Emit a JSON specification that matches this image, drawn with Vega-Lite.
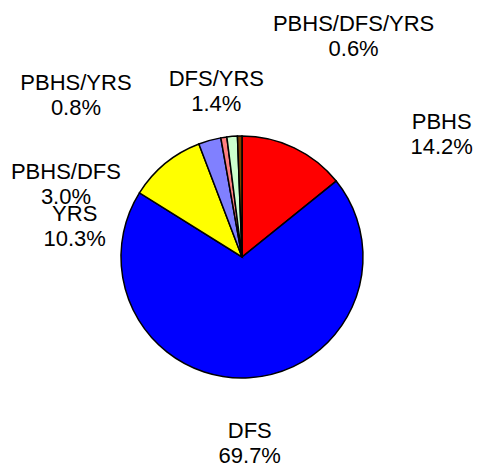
{
  "$schema": "https://vega.github.io/schema/vega-lite/v6.json",
  "width": 472,
  "height": 428,
  "padding": {"left": 6, "top": 43, "right": 0, "bottom": 0},
  "autosize": {"type": "none"},
  "background": "white",
  "view": {"stroke": null},
  "config": {"text": {"font": "Liberation Sans", "fontSize": 22, "lineBreak": "\n", "lineHeight": 25, "align": "center", "baseline": "middle", "color": "black"}},
  "data": {
    "values": [
      {"category": "PBHS", "value": 14.2},
      {"category": "DFS", "value": 69.7},
      {"category": "YRS", "value": 10.3},
      {"category": "PBHS/DFS", "value": 3.0},
      {"category": "PBHS/YRS", "value": 0.8},
      {"category": "DFS/YRS", "value": 1.4},
      {"category": "PBHS/DFS/YRS", "value": 0.6}
    ]
  },
  "transform": [
    {"window": [{"op": "row_number", "as": "order"}]},
    {"calculate": "datum.category + '\\n' + format(datum.value, '.1f') + '%'", "as": "label"}
  ],
  "encoding": {
    "theta": {"field": "value", "type": "quantitative", "stack": true},
    "order": {"field": "order", "type": "quantitative"}
  },
  "layer": [
    {
      "mark": {"type": "arc", "outerRadius": 121, "stroke": "black", "strokeWidth": 1.5},
      "encoding": {
        "color": {
          "field": "category",
          "type": "nominal",
          "scale": {
            "domain": ["PBHS", "DFS", "YRS", "PBHS/DFS", "PBHS/YRS", "DFS/YRS", "PBHS/DFS/YRS"],
            "range": ["#FF0000", "#0000FF", "#FFFF00", "#8080FF", "#FF8080", "#CCFFCC", "#804000"]
          },
          "legend": null
        }
      }
    },
    {
      "mark": {"type": "text", "radius": 180, "dx": 122, "dy": 27},
      "encoding": {"text": {"condition": {"test": "datum.category === 'PBHS'", "field": "label"}, "value": ""}}
    },
    {
      "mark": {"type": "text", "radius": 180, "dx": -3, "dy": -6},
      "encoding": {"text": {"condition": {"test": "datum.category === 'DFS'", "field": "label"}, "value": ""}}
    },
    {
      "mark": {"type": "text", "radius": 180, "dx": -53, "dy": 96},
      "encoding": {"text": {"condition": {"test": "datum.category === 'YRS'", "field": "label"}, "value": ""}}
    },
    {
      "mark": {"type": "text", "radius": 180, "dx": -128, "dy": 88},
      "encoding": {"text": {"condition": {"test": "datum.category === 'PBHS/DFS'", "field": "label"}, "value": ""}}
    },
    {
      "mark": {"type": "text", "radius": 180, "dx": -139, "dy": 4},
      "encoding": {"text": {"condition": {"test": "datum.category === 'PBHS/YRS'", "field": "label"}, "value": ""}}
    },
    {
      "mark": {"type": "text", "radius": 180, "dx": -11, "dy": 1},
      "encoding": {"text": {"condition": {"test": "datum.category === 'DFS/YRS'", "field": "label"}, "value": ""}}
    },
    {
      "mark": {"type": "text", "radius": 180, "dx": 115, "dy": -53},
      "encoding": {"text": {"condition": {"test": "datum.category === 'PBHS/DFS/YRS'", "field": "label"}, "value": ""}}
    }
  ]
}
